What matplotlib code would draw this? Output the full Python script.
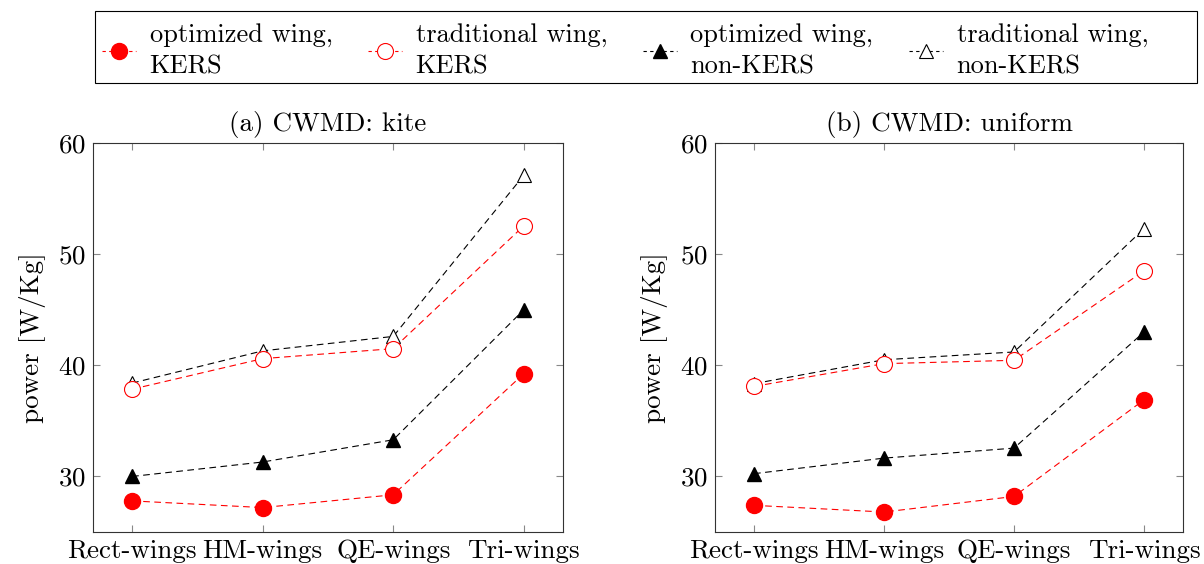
import matplotlib
matplotlib.use("Agg")
import matplotlib.pyplot as plt
from matplotlib.lines import Line2D
from matplotlib.patches import Rectangle

plt.rcParams['font.family'] = ['cmr10', 'DejaVu Serif']
plt.rcParams['mathtext.fontset'] = 'cm'
plt.rcParams['axes.formatter.use_mathtext'] = True

categories = ['Rect-wings', 'HM-wings', 'QE-wings', 'Tri-wings']

# (a) CWMD: kite
kite_opt_kers = [27.8, 27.2, 28.35, 39.25]
kite_trad_kers = [37.85, 40.6, 41.5, 52.55]
kite_opt_nokers = [30.0, 31.3, 33.3, 45.0]
kite_trad_nokers = [38.4, 41.3, 42.6, 57.1]

# (b) CWMD: uniform
uni_opt_kers = [27.4, 26.8, 28.2, 36.9]
uni_trad_kers = [38.1, 40.15, 40.45, 48.5]
uni_opt_nokers = [30.25, 31.65, 32.55, 43.0]
uni_trad_nokers = [38.35, 40.5, 41.2, 52.3]

titles = ['(a) CWMD: kite', '(b) CWMD: uniform']
labels = ['optimized wing,\nKERS', 'traditional wing,\nKERS',
          'optimized wing,\nnon-KERS', 'traditional wing,\nnon-KERS']

styles = [
    dict(color='red', marker='o', markersize=11.5, markerfacecolor='red', markeredgecolor='red'),
    dict(color='red', marker='o', markersize=11.5, markerfacecolor='white', markeredgecolor='red', markeredgewidth=0.8),
    dict(color='black', marker='^', markersize=10.5, markerfacecolor='black', markeredgecolor='black'),
    dict(color='black', marker='^', markersize=10.5, markerfacecolor='white', markeredgecolor='black', markeredgewidth=0.8),
]

panels = [
    [kite_opt_kers, kite_trad_kers, kite_opt_nokers, kite_trad_nokers],
    [uni_opt_kers, uni_trad_kers, uni_opt_nokers, uni_trad_nokers],
]

FS = 19.5
W, H = 1204, 564

fig = plt.figure(figsize=(W / 100, H / 100), dpi=100)
rects = [[0.0772, 0.0567, 0.3904, 0.6897], [0.5939, 0.0567, 0.3887, 0.6897]]

x = list(range(len(categories)))
for rect, title, series in zip(rects, titles, panels):
    ax = fig.add_axes(rect)
    # draw non-KERS / traditional first so the filled markers sit on top
    for vals, st in reversed(list(zip(series, styles))):
        ax.plot(x, vals, linestyle=(0, (6, 4)), linewidth=0.8, **st)
    ax.set_xlim(-0.3, 3.3)
    ax.set_ylim(25, 60)
    ax.set_xticks(x)
    ax.set_xticklabels(categories)
    ax.set_yticks([30, 40, 50, 60])
    ax.tick_params(direction='in', length=5, width=0.8, color='#888888',
                   top=True, right=True, labelsize=FS, pad=5)
    for s in ax.spines.values():
        s.set_linewidth(0.8)
        s.set_color('#333333')
    ax.set_title(title, fontsize=FS, pad=9)
    ax.set_ylabel('power [W/Kg]', fontsize=FS, labelpad=9)

# legend: entries packed from the left, box drawn separately (pgfplots style)
handles = [Line2D([0], [0], linestyle=(0, (3, 3)), linewidth=0.8, **st) for st in styles]
leg = fig.legend(handles, labels, loc='center left', ncol=4,
                 bbox_to_anchor=(102 / W, 1 - 51 / H), fontsize=19,
                 frameon=False, handlelength=1.3, handletextpad=0.5,
                 borderpad=0, labelspacing=0.15, columnspacing=1.35,
                 borderaxespad=0)
for t in leg.get_texts():
    t.set_linespacing(1.4)
fig.patches.append(Rectangle((95 / W, 1 - 83 / H), (1197 - 95) / W, 72 / H,
                             transform=fig.transFigure, fill=False,
                             edgecolor='black', linewidth=0.8))

fig.savefig('out.png', dpi=100)
